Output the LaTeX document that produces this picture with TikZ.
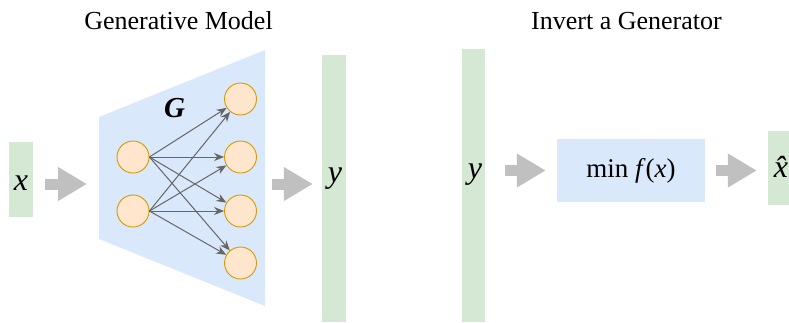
\documentclass[tikz,border=0pt]{standalone}
\usepackage{fontspec}
\setmainfont{Liberation Serif}
\usetikzlibrary{arrows.meta}

\definecolor{barGreen}{HTML}{D5E8D4}
\definecolor{genBlue}{HTML}{DAE8FC}
\definecolor{unitFill}{HTML}{FFE6CC}
\definecolor{unitLine}{HTML}{D79B00}
\definecolor{flowGray}{HTML}{C0C0C0}
\definecolor{edgeGray}{HTML}{666666}

\tikzset{
  databar/.style={fill=barGreen, draw=none, inner sep=0pt, minimum width=24pt},
  unit/.style={circle, fill=unitFill, draw=unitLine, line width=0.9pt, inner sep=0pt, minimum size=32pt},
  wire/.style={draw=edgeGray, line width=1pt, -{Stealth[length=10pt,width=8pt]}},
  flow/.style={draw=flowGray, line width=11pt, -{Triangle[length=29pt,width=32pt]}},
  title/.style={font=\fontsize{26}{30}\selectfont, anchor=base},
  varlabel/.style={font=\fontsize{32}{36}\selectfont\itshape, anchor=base, inner sep=0pt},
}

\begin{document}
\begin{tikzpicture}[x=1pt, y=-1pt]
  \useasboundingbox (0,0) rectangle (789,322);

  % titles
  \node[title] (t1) at (178.5,29) {Generative Model};
  \node[title] (t2) at (626.5,29) {Invert a Generator};

  % ---- left half: the generator ----
  \node[databar, minimum height=75pt] (xin) at (21,179.5) {};
  \node[varlabel] (xl) at (21,190) {x};

  \fill[genBlue] (99,117) -- (265,50) -- (265,306) -- (99,239) -- cycle;
  \coordinate (genL) at (99,184);
  \coordinate (genR) at (265,184);
  \node[font=\fontsize{29}{34}\selectfont\bfseries\itshape, anchor=base, inner sep=0pt] (glbl) at (174.5,117) {G};

  \node[unit] (l1) at (133,157) {};
  \node[unit] (l2) at (133,211) {};
  \node[unit] (r1) at (240.5,99) {};
  \node[unit] (r2) at (240.5,157) {};
  \node[unit] (r3) at (240.5,211) {};
  \node[unit] (r4) at (240.5,263) {};

  \foreach \s in {l1,l2}
    \foreach \t in {r1,r2,r3,r4}
      \draw[wire] (\s.east) -- (\t);

  \node[databar, minimum height=267pt] (yout) at (334,188.5) {};
  \node[varlabel] (yl1) at (335,182.5) {y};

  \draw[flow, shorten <=12pt, shorten >=12pt] (xin.east |- genL) -- (genL);
  \draw[flow, shorten <=7pt, shorten >=9pt] (genR) -- (yout.west |- genR);

  % ---- right half: inversion ----
  \node[databar, minimum width=23pt, minimum height=273pt] (yin) at (473.5,185.5) {};
  \node[varlabel] (yl2) at (475,178) {y};

  \node[fill=genBlue, minimum width=148pt, minimum height=63pt, inner sep=0pt,
        font=\fontsize{27}{32}\selectfont] (opt) at (631,170.5) {min \textit{f}(\textit{x})};

  \node[databar, minimum height=74pt] (xhat) at (780,168) {};
  \node[varlabel] (xhl) at (781,177) {\^x};

  \draw[flow, shorten <=20pt, shorten >=11pt] (yin.east |- opt) -- (opt.west);
  \draw[flow, shorten <=11pt, shorten >=11pt] (opt.east) -- (xhat.west |- opt);
\end{tikzpicture}
\end{document}
